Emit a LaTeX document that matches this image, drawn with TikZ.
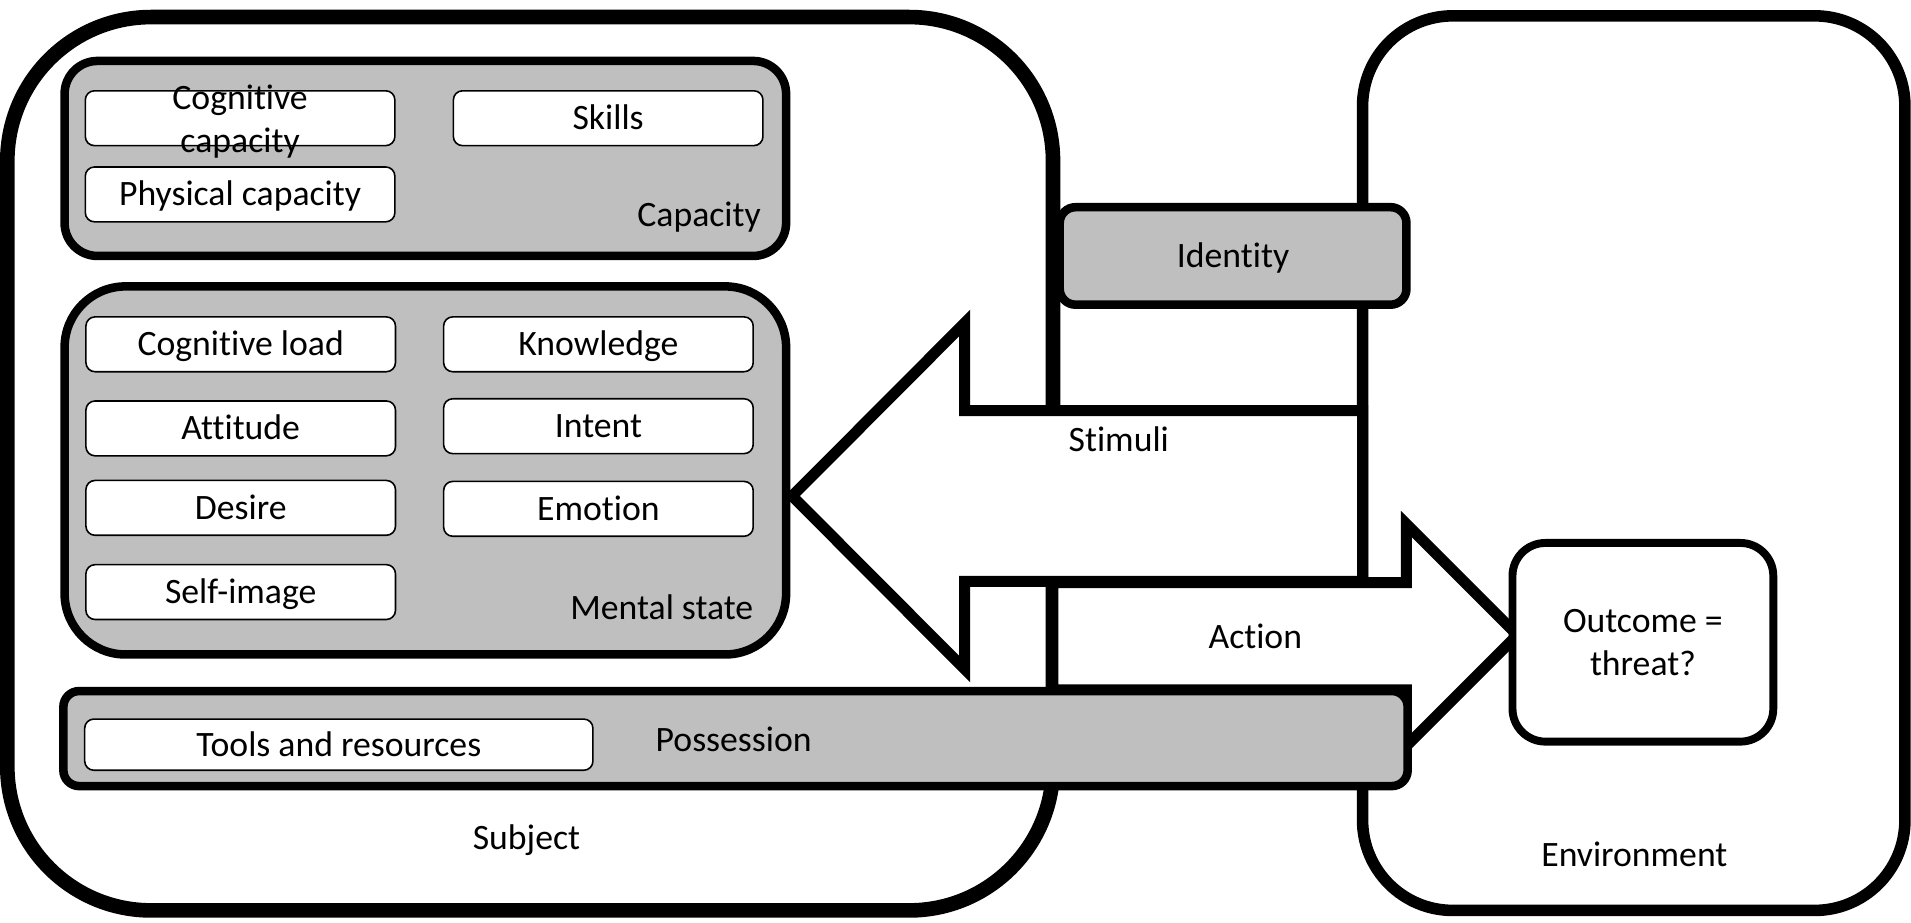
\documentclass[tikz,border=0pt]{standalone}
\usepackage{fontspec}
\setmainfont{Carlito}[Ligatures=NoCommon]
\definecolor{boxgray}{HTML}{BFBFBF}
\begin{document}
\begin{tikzpicture}[x=1pt,y=-1pt,
  every node/.style={font=\fontsize{29.3}{35}\selectfont, inner sep=0pt, outer sep=0pt},
  boxtext/.style={text height=25pt, text depth=6pt},
  bigframe/.style={draw=black, fill=white, rounded corners=#1},
  graybox/.style={draw=black, fill=boxgray, line width=7pt, rounded corners=#1},
  itembox/.style={draw=black, fill=white, line width=1.3pt, rounded corners=7.5pt,
     minimum width=254pt, minimum height=45pt, boxtext},
  blockarrow/.style={draw=black, fill=white, line width=9pt, miter limit=10}
]
\useasboundingbox (0,0) rectangle (1568,757.3);

% Subject and Environment frames
\node[bigframe=118pt, line width=12pt, minimum width=858pt, minimum height=733pt] (subject) at (435,380.5) {};
\node[bigframe=74pt, line width=9.5pt, minimum width=445pt, minimum height=734pt] (environment) at (1340.5,380) {};

% Stimuli arrow (pointing left)
\coordinate (s1) at (1118,337);
\coordinate (s2) at (791.5,337);
\coordinate (s3) at (791.5,265);
\coordinate (s4) at (650,407);
\coordinate (s5) at (791.5,549);
\coordinate (s6) at (791.5,477);
\coordinate (s7) at (1118,477);
\draw[blockarrow] (s1) -- (s2) -- (s3) -- (s4) -- (s5) -- (s6) -- (s7) -- cycle;

% Action arrow (pointing right)
\coordinate (a1) at (864,478);
\coordinate (a2) at (1154,478);
\coordinate (a3) at (1154,430);
\coordinate (a4) at (1245,521);
\coordinate (a5) at (1154,612);
\coordinate (a6) at (1154,566);
\coordinate (a7) at (864,566);
\draw[blockarrow] (a1) -- (a2) -- (a3) -- (a4) -- (a5) -- (a6) -- (a7) -- cycle;

% Gray group boxes
\node[graybox=13pt, minimum width=1103pt, minimum height=78pt] (possession) at (603.5,606) {};
\node[graybox=13pt, minimum width=284.5pt, minimum height=80pt, boxtext] (identity) at (1011.75,210) {Identity};
\node[graybox=27pt, minimum width=592pt, minimum height=160pt] (capacity) at (349,130) {};
\node[graybox=50pt, minimum width=592pt, minimum height=302pt] (mental) at (349,386) {};

% Outcome
\node[draw=black, fill=white, line width=6.5pt, rounded corners=27pt, minimum width=214pt, minimum height=163pt, align=center] (outcome) at (1348,527) {Outcome =\\threat?};

% Capacity items
\node[itembox, label={[align=center, yshift=-2.5pt, font=\fontsize{29.3}{35}\selectfont]center:Cognitive\\capacity}] (cogcap) at (197,97) {};
\node[itembox] (skills) at (499,97) {Skills};
\node[itembox] (phys) at (197,159.5) {Physical capacity};
\node[anchor=center] (caplabel) at (573.6,177.8) {Capacity};

% Mental state items
\node[itembox] (cogload) at (197.5,282.5) {Cognitive load};
\node[itembox] (knowledge) at (491,282.5) {Knowledge};
\node[itembox] (attitude) at (197.5,351.5) {Attitude};
\node[itembox] (intent) at (491,349.7) {Intent};
\node[itembox] (desire) at (197.5,416.7) {Desire};
\node[itembox] (emotion) at (491,417.5) {Emotion};
\node[itembox] (selfimage) at (197.5,485.8) {Self-image};
\node (mentallabel) at (543,498) {Mental state};

% Possession items
\node[itembox, minimum width=417pt, minimum height=42pt] (tools) at (278,611) {Tools and resources};
\node (posslabel) at (602,607) {Possession};

% Other labels
\node (stimlabel) at (918,360) {Stimuli};
\node (actlabel) at (1030,522) {Action};
\node (subjlabel) at (432,689) {Subject};
\node (envlabel) at (1341,701) {Environment};
\end{tikzpicture}
\end{document}
